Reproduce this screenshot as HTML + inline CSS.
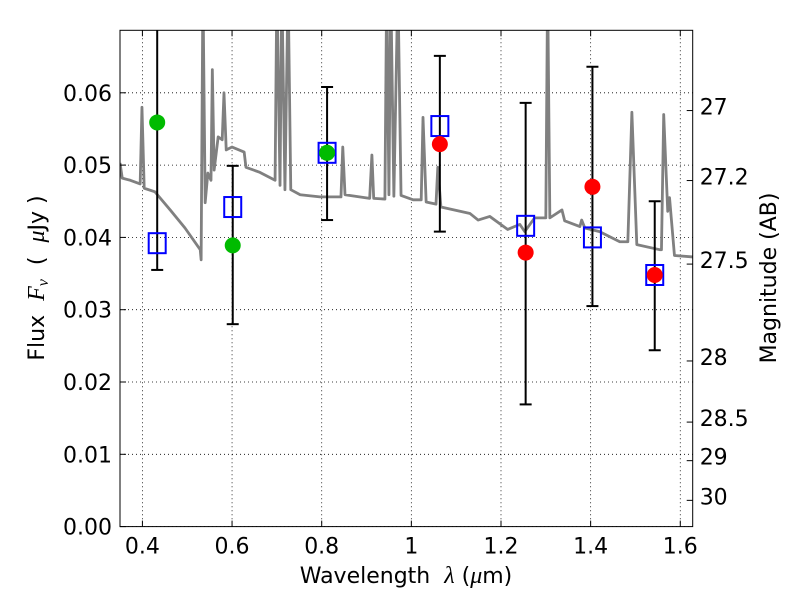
<!DOCTYPE html>
<html><head><meta charset="utf-8"><style>
body{margin:0;background:#fff}
svg text{font-family:"DejaVu Sans","Liberation Sans",sans-serif;fill:#000}
</style></head><body>
<svg id="chart" width="800" height="600" xmlns="http://www.w3.org/2000/svg">
<g id="grid"></g>
<g id="spec"></g>
<g id="errs"></g>
<g id="marks"></g>
<rect x="120" y="30.3" width="572.7" height="496.3" fill="none" stroke="#000" stroke-width="1"/>
<g id="axes"></g>
<text x="406" y="583" font-size="22" text-anchor="middle" xml:space="preserve">Wavelength  <tspan font-style="italic" font-family="Liberation Serif" font-size="24">λ</tspan> (<tspan font-style="italic" font-family="Liberation Serif" font-size="24">μ</tspan>m)</text>
<text transform="translate(44,278) rotate(-90)" font-size="22" text-anchor="middle" xml:space="preserve">Flux  <tspan font-style="italic" font-family="Liberation Serif" font-size="24">F<tspan font-size="16" dy="4">ν</tspan></tspan><tspan dy="-4">  (  </tspan><tspan font-style="italic" font-family="Liberation Serif" font-size="24">μ</tspan>Jy )</text>
<text transform="translate(776,278) rotate(-90)" font-size="22" text-anchor="middle">Magnitude (AB)</text>
</svg>
<script>
const specLam=[0.350,0.355,0.373,0.395,0.399,0.404,0.428,0.462,0.495,0.529,0.531,0.535,0.540,0.546,0.553,0.556,0.560,0.569,0.578,0.582,0.587,0.600,0.627,0.631,0.662,0.696,0.700,0.707,0.711,0.718,0.725,0.731,0.752,0.796,0.843,0.847,0.852,0.907,0.912,0.916,0.941,0.945,0.950,0.954,0.961,0.970,0.977,1.004,1.022,1.026,1.033,1.055,1.059,1.066,1.131,1.149,1.175,1.215,1.242,1.253,1.275,1.300,1.304,1.309,1.336,1.342,1.376,1.380,1.387,1.420,1.465,1.483,1.492,1.503,1.554,1.558,1.563,1.572,1.576,1.587,1.628];
const specFlux=[0.0503,0.0482,0.0479,0.0474,0.0580,0.0468,0.0463,0.0438,0.0413,0.0383,0.0369,0.075,0.0448,0.0489,0.0479,0.0632,0.0493,0.0539,0.0535,0.0600,0.0521,0.0525,0.0518,0.0497,0.0490,0.0479,0.075,0.0472,0.075,0.0466,0.075,0.0466,0.0459,0.0456,0.0456,0.0525,0.0459,0.0454,0.0514,0.0454,0.0453,0.075,0.0459,0.075,0.0457,0.075,0.0458,0.0452,0.0452,0.0566,0.0449,0.0446,0.0497,0.0442,0.0433,0.0424,0.0429,0.0411,0.0418,0.0408,0.0427,0.0427,0.075,0.0427,0.0438,0.0423,0.0415,0.0424,0.0413,0.0408,0.0394,0.0394,0.0573,0.0390,0.0383,0.0383,0.0570,0.0436,0.0455,0.0375,0.0373];
const greenLam=[0.433,0.6015,0.812];
const greenFlux=[0.0559,0.0389,0.0517];
const redLam=[1.0636,1.255,1.404,1.543];
const redFlux=[0.0529,0.0379,0.0470,0.0348];
const boxLam=[0.433,0.6015,0.812,1.0636,1.255,1.404,1.543];
const boxFlux=[0.0392,0.0442,0.0517,0.0554,0.0416,0.0400,0.0348];
const errLam=[0.433,0.6015,0.812,1.0636,1.255,1.404,1.543];
const errLow=[0.0355,0.0280,0.0424,0.0408,0.0169,0.0305,0.0244];
const errHigh=[0.080,0.0499,0.0608,0.0651,0.0586,0.0636,0.0450];
const xTicks=[0.4,0.6,0.8,1.0,1.2,1.4,1.6];
const xTickLabels=["0.4","0.6","0.8","1","1.2","1.4","1.6"];
const yTicks=[0,0.01,0.02,0.03,0.04,0.05,0.06];
const yTickLabels=["0.00","0.01","0.02","0.03","0.04","0.05","0.06"];
const magTicks=[27,27.2,27.5,28,28.5,29,30];
const magTickLabels=["27","27.2","27.5","28","28.5","29","30"];

const NS="http://www.w3.org/2000/svg";
const L=120,R=692.7,T=30.3,B=526.6;
const xMin=0.35,xMax=1.6277,yMin=0,yMax=(B-T)/7230;
function X(v){return L+(v-xMin)/(xMax-xMin)*(R-L);}
function Y(v){return B-(v-yMin)/(yMax-yMin)*(B-T);}
function mk(tag,attrs,parent){const e=document.createElementNS(NS,tag);for(const k in attrs)e.setAttribute(k,attrs[k]);parent.appendChild(e);return e;}
const grid=document.getElementById('grid'),axes=document.getElementById('axes');
xTicks.forEach((t,i)=>{
  const x=X(t);
  const g=mk('line',{x1:x,x2:x,y1:T,y2:B,stroke:'#000','stroke-width':0.8,'stroke-dasharray':'1,3'},grid);
  
  
  mk('line',{x1:x,x2:x,y1:B,y2:B-6,stroke:'#000'},axes);
  mk('line',{x1:x,x2:x,y1:T,y2:T+6,stroke:'#000'},axes);
  const tx=mk('text',{x:x,y:B+27,'font-size':22,'text-anchor':'middle'},axes);
  tx.textContent=xTickLabels[i];
  
  
});
yTicks.forEach((t,i)=>{
  const y=Y(t);
  const g=mk('line',{x1:L,x2:R,y1:y,y2:y,stroke:'#000','stroke-width':0.8,'stroke-dasharray':'1,3'},grid);
  
  
  mk('line',{x1:L,x2:L+6,y1:y,y2:y,stroke:'#000'},axes);
  const tx=mk('text',{x:L-8,y:y+8,'font-size':22,'text-anchor':'end'},axes);
  tx.textContent=yTickLabels[i];
  
  
});
magTicks.forEach((m,i)=>{
  const y=Y(Math.pow(10,(23.9-m)/2.5));
  mk('line',{x1:R,x2:R-6,y1:y,y2:y,stroke:'#000'},axes);
  const tx=mk('text',{x:R+7,y:y+4,'font-size':22},axes);
  tx.textContent=magTickLabels[i];
  
  
});
const spec=document.getElementById('spec');
const cp=mk('clipPath',{id:'clip'},spec);mk('rect',{x:L,y:T,width:R-L,height:B-T},cp);
const p=mk('polyline',{points:specLam.map((l,i)=>X(l)+','+Y(specFlux[i])).join(' '),fill:'none',stroke:'#808080','stroke-width':2.8,'clip-path':'url(#clip)','stroke-linejoin':'round'},spec);


const errs=document.getElementById('errs');
errLam.forEach((l,i)=>{
  const x=X(l),y1=Y(errLow[i]),y2=Y(errHigh[i]);
  const g=mk('g',{'clip-path':'url(#clip)'},errs);
  
  
  mk('line',{x1:x,x2:x,y1:y1,y2:y2,stroke:'#000','stroke-width':2},g);
  mk('line',{x1:x-6,x2:x+6,y1:y1,y2:y1,stroke:'#000','stroke-width':2},g);
  mk('line',{x1:x-6,x2:x+6,y1:y2,y2:y2,stroke:'#000','stroke-width':2},g);
});
const marks=document.getElementById('marks');
boxLam.forEach((l,i)=>{
  const r=mk('rect',{x:X(l)-8.5,y:Y(boxFlux[i])-10,width:17,height:20,fill:'none',stroke:'#0000ff','stroke-width':2},marks);
  
  
});
greenLam.forEach((l,i)=>{
  const c=mk('circle',{cx:X(l),cy:Y(greenFlux[i]),r:8,fill:'#00bb00'},marks);
  
  
});
redLam.forEach((l,i)=>{
  const c=mk('circle',{cx:X(l),cy:Y(redFlux[i]),r:8,fill:'#ff0000'},marks);
  
  
});
</script>
</body></html>
